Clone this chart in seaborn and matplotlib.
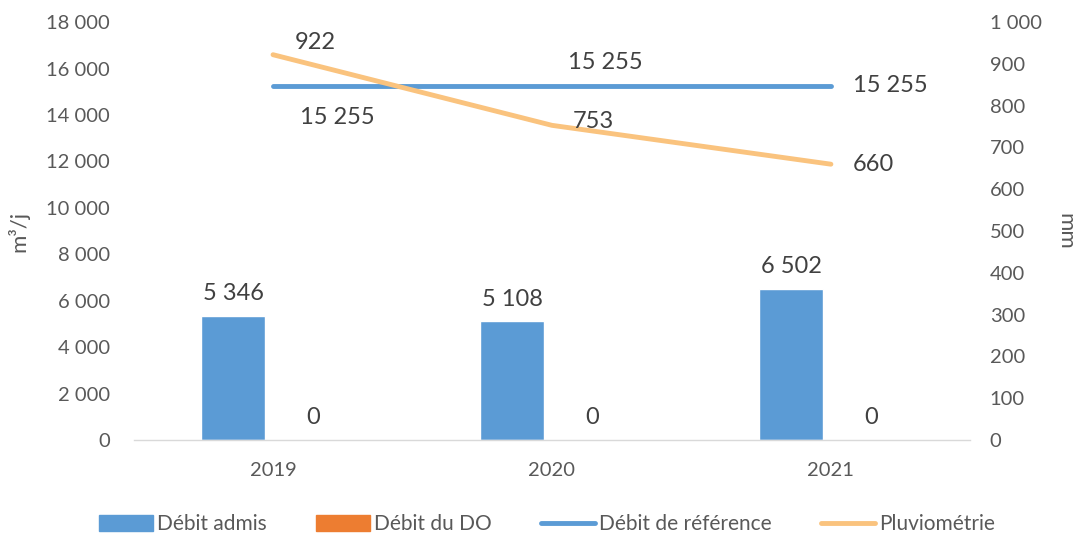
import matplotlib
matplotlib.use("Agg")
import matplotlib.pyplot as plt
import seaborn as sns
import pandas as pd
from matplotlib.patches import Patch
from matplotlib.lines import Line2D

years = ["2019", "2020", "2021"]
debit_admis = [5346, 5108, 6502]
debit_do = [0, 0, 0]
debit_ref = [15255, 15255, 15255]
pluvio = [922, 753, 660]

sns.set_theme(style="white")
plt.rcParams['font.family'] = ['Lato', 'DejaVu Sans']

C_BAR = "#5B9BD5"
C_DO = "#ED7D31"
C_REF = "#5B9BD5"
C_PLU = "#FAC37E"
TXT = "#595959"

fig = plt.figure(figsize=(10.77, 5.33), dpi=100)
ax = fig.add_axes([0.124, 0.1745, 0.777, 0.784])

df = pd.DataFrame({
    "year": years * 2,
    "value": debit_admis + debit_do,
    "serie": ["Débit admis"] * 3 + ["Débit du DO"] * 3,
})
sns.barplot(data=df, x="year", y="value", hue="serie", palette=[C_BAR, C_DO],
            width=0.572, gap=0.2, ax=ax, legend=False, saturation=1, errorbar=None)

xs = list(range(len(years)))
sns.lineplot(x=xs, y=debit_ref, ax=ax, color=C_REF, linewidth=3.5, solid_capstyle="round")
ax.set_xlim(-0.5, 2.5)
ax.set_ylim(0, 18000)
ax.set_yticks(range(0, 18001, 2000))
ax.set_yticklabels([f"{v:,}".replace(",", " ") for v in range(0, 18001, 2000)])
ax.set_xlabel("")
ax.set_ylabel("m³/j", fontsize=16, color=TXT, labelpad=12)
ax.tick_params(axis="both", length=0, labelsize=14.5, labelcolor=TXT)
ax.tick_params(axis="y", pad=17)
ax.tick_params(axis="x", pad=16)
for s in ["top", "right", "left"]:
    ax.spines[s].set_visible(False)
ax.spines["bottom"].set_color("#D9D9D9")
ax.spines["bottom"].set_linewidth(1)

ax2 = ax.twinx()
sns.lineplot(x=xs, y=pluvio, ax=ax2, color=C_PLU, linewidth=3.5, solid_capstyle="round")
ax2.set_ylim(0, 1000)
ax2.set_yticks(range(0, 1001, 100))
ax2.set_yticklabels([f"{v:,}".replace(",", " ") for v in range(0, 1001, 100)])
ax2.tick_params(axis="y", length=0, labelsize=14.5, labelcolor=TXT, pad=14)
ax2.set_ylabel("mm", fontsize=16, color=TXT, rotation=270, labelpad=24)
for s in ["top", "right", "left", "bottom"]:
    ax2.spines[s].set_visible(False)
ax2.set_xlim(-0.5, 2.5)

LBL = dict(fontsize=17, color="#404040")
fmt = lambda v: f"{v:,}".replace(",", " ")
off = 0.143
for i, v in enumerate(debit_admis):
    ax.text(i - off, v + 500, fmt(v), ha="center", va="bottom", **LBL)
for i, v in enumerate(debit_do):
    ax.text(i + off, v + 500, fmt(v), ha="center", va="bottom", **LBL)
# reference labels
ax.text(0.23, debit_ref[0] - 900, fmt(debit_ref[0]), ha="center", va="top", **LBL)
ax.text(1.19, debit_ref[1] + 550, fmt(debit_ref[1]), ha="center", va="bottom", **LBL)
ax.text(2.08, debit_ref[2], fmt(debit_ref[2]), ha="left", va="center", **LBL)
# pluvio labels
ax2.text(0.15, pluvio[0] + 5, fmt(pluvio[0]), ha="center", va="bottom", **LBL)
ax2.text(1.15, pluvio[1] - 15, fmt(pluvio[1]), ha="center", va="bottom", **LBL)
ax2.text(2.08, pluvio[2], fmt(pluvio[2]), ha="left", va="center", **LBL)

handles = [Patch(color=C_BAR), Patch(color=C_DO),
           Line2D([], [], color=C_REF, lw=3.5, solid_capstyle="round"),
           Line2D([], [], color=C_PLU, lw=3.5, solid_capstyle="round")]
labels = ["Débit admis", "Débit du DO", "Débit de référence", "Pluviométrie"]
fig.legend(handles, labels, loc="center", bbox_to_anchor=(0.508, 0.016), ncol=4,
           frameon=False, fontsize=15, handlelength=2.6, handleheight=0.8,
           handletextpad=0.2, columnspacing=2.35, labelcolor=TXT,
           borderpad=0.1)

fig.savefig("out.png", dpi=100)
